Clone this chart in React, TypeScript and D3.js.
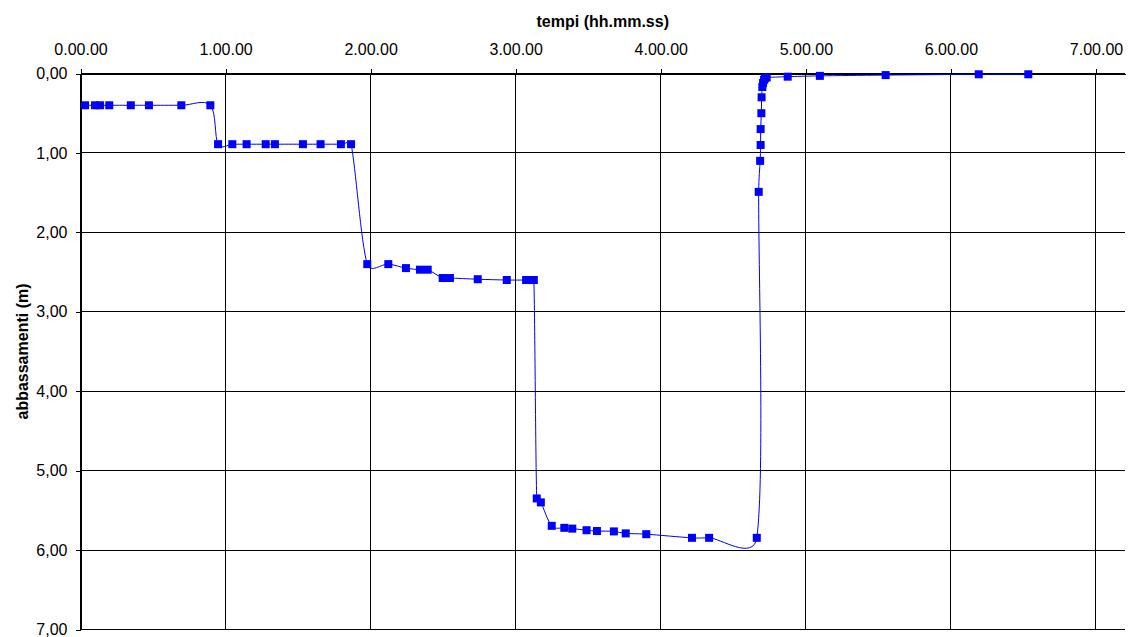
import React, { useEffect, useRef } from "react";
import * as d3 from "d3";

// tempi in minuti dall'inizio della prova
const tempi = [
  1.9, 6.0, 8.1, 11.9, 20.8, 28.3, 41.7, 53.7,
  56.9, 62.8, 68.7, 76.6, 80.4, 92.0, 99.3, 107.7, 111.9,
  118.6, 127.3, 134.6, 140.4, 143.6, 149.8, 152.8, 164.3, 176.3, 184.3, 185.9, 187.5,
  188.7, 190.4, 194.9, 200.1, 203.4, 209.3, 213.6, 220.6, 225.5, 234.0, 252.9, 260.0, 279.7,
  280.5, 281.1, 281.3, 281.3, 281.6, 281.7, 282.0, 282.3, 282.7, 283.1, 283.8, 292.5, 305.8, 333.0, 371.5, 392.0,
];

// abbassamenti in metri
const abbassamenti = [
  0.40, 0.40, 0.40, 0.40, 0.40, 0.40, 0.40, 0.40,
  0.89, 0.89, 0.89, 0.89, 0.89, 0.89, 0.89, 0.89, 0.89,
  2.40, 2.40, 2.45, 2.47, 2.47, 2.575, 2.575, 2.59, 2.60, 2.60, 2.60, 2.60,
  5.35, 5.40, 5.695, 5.72, 5.73, 5.75, 5.76, 5.765, 5.79, 5.80, 5.846, 5.846, 5.846,
  1.49, 1.10, 0.90, 0.70, 0.50, 0.30, 0.17, 0.12, 0.08, 0.06, 0.05, 0.04, 0.03, 0.02, 0.01, 0.01,
];

const xTicks = [0, 60, 120, 180, 240, 300, 360, 420];
const yTicks = [0, 1, 2, 3, 4, 5, 6, 7];

const W = 1129, H = 637;
const FONT = "'Liberation Sans', Arial, sans-serif";

function fmtTime(min: number) {
  const totalSec = Math.round(min * 60);
  const h = Math.floor(totalSec / 3600);
  const m = Math.floor((totalSec % 3600) / 60);
  const s = totalSec % 60;
  return `${h}.${String(m).padStart(2, "0")}.${String(s).padStart(2, "0")}`;
}

// curva smussata tipo Excel: Catmull-Rom con tangenti limitate
// a metà della lunghezza del tratto (niente riccioli sui tratti corti)
function smoothPath(pts: [number, number][]) {
  const p = d3.path();
  const n = pts.length;
  p.moveTo(pts[0][0], pts[0][1]);
  const limit = (v: number[], cap: number) => {
    const l = Math.hypot(v[0], v[1]);
    return l > cap && l > 0 ? [v[0] * cap / l, v[1] * cap / l] : v;
  };
  for (let i = 0; i < n - 1; i++) {
    const p0 = pts[Math.max(i - 1, 0)], p1 = pts[i], p2 = pts[i + 1], p3 = pts[Math.min(i + 2, n - 1)];
    const cap = Math.hypot(p2[0] - p1[0], p2[1] - p1[1]) * 0.5;
    const t1 = limit([(p2[0] - p0[0]) / 6, (p2[1] - p0[1]) / 6], cap);
    const t2 = limit([(p3[0] - p1[0]) / 6, (p3[1] - p1[1]) / 6], cap);
    p.bezierCurveTo(p1[0] + t1[0], p1[1] + t1[1], p2[0] - t2[0], p2[1] - t2[1], p2[0], p2[1]);
  }
  return p.toString();
}

export default function App() {
  const ref = useRef<SVGSVGElement>(null);

  useEffect(() => {
    const svg = d3.select(ref.current);
    svg.selectAll("*").remove();

    const x = d3.scaleLinear().domain([0, 432]).range([80.5, 1125]);
    const y = d3.scaleLinear().domain([0, 7]).range([73.5, 629.5]);

    const data = tempi.map((t, i) => ({ t, v: abbassamenti[i] }));

    // griglia
    svg.append("g")
      .selectAll("line")
      .data(yTicks)
      .join("line")
      .attr("x1", x(0)).attr("x2", x(432))
      .attr("y1", d => y(d)).attr("y2", d => y(d))
      .attr("stroke", "#000").attr("shape-rendering", "crispEdges");

    svg.append("g")
      .selectAll("line")
      .data(xTicks)
      .join("line")
      .attr("x1", d => x(d)).attr("x2", d => x(d))
      .attr("y1", y(0)).attr("y2", y(7))
      .attr("stroke", "#000").attr("shape-rendering", "crispEdges");

    const xAxis = svg.append("g")
      .attr("transform", `translate(0,${y(0)})`)
      .call(d3.axisTop(x).tickValues(xTicks).tickFormat(d => fmtTime(+d)).tickSize(5).tickSizeOuter(0).tickPadding(14));

    const yAxis = svg.append("g")
      .attr("transform", `translate(${x(0)},0)`)
      .call(d3.axisLeft(y).tickValues(yTicks).tickFormat(d => d3.format(".2f")(+d).replace(".", ",")).tickSize(5).tickSizeOuter(0).tickPadding(8));

    [xAxis, yAxis].forEach(g => {
      g.selectAll("path, line").attr("stroke", "#000").attr("shape-rendering", "crispEdges");
      g.selectAll("text").attr("fill", "#000").style("font-family", FONT).style("font-size", "16px");
    });

    // linea smussata
    svg.append("path")
      .attr("d", smoothPath(data.map(d => [x(d.t), y(d.v)] as [number, number])))
      .attr("fill", "none")
      .attr("stroke", "#0000ff")
      .attr("stroke-width", 1);

    svg.append("g")
      .selectAll("rect")
      .data(data)
      .join("rect")
      .attr("x", d => x(d.t) - 4)
      .attr("y", d => y(d.v) - 4)
      .attr("width", 8)
      .attr("height", 8)
      .attr("fill", "#0000ff");

    // titoli degli assi
    svg.append("text")
      .attr("x", (x(0) + x(432)) / 2)
      .attr("y", 27)
      .attr("text-anchor", "middle")
      .style("font-family", FONT)
      .style("font-size", "16px")
      .style("font-weight", "bold")
      .text("tempi (hh.mm.ss)");

    svg.append("text")
      .attr("transform", `translate(28,${(y(0) + y(7)) / 2}) rotate(-90)`)
      .attr("text-anchor", "middle")
      .style("font-family", FONT)
      .style("font-size", "16px")
      .style("font-weight", "bold")
      .text("abbassamenti (m)");
  }, []);

  return (
    <svg
      ref={ref}
      width={W}
      height={H}
      style={{ position: "absolute", left: 0, top: 0, background: "#fff" }}
    />
  );
}
